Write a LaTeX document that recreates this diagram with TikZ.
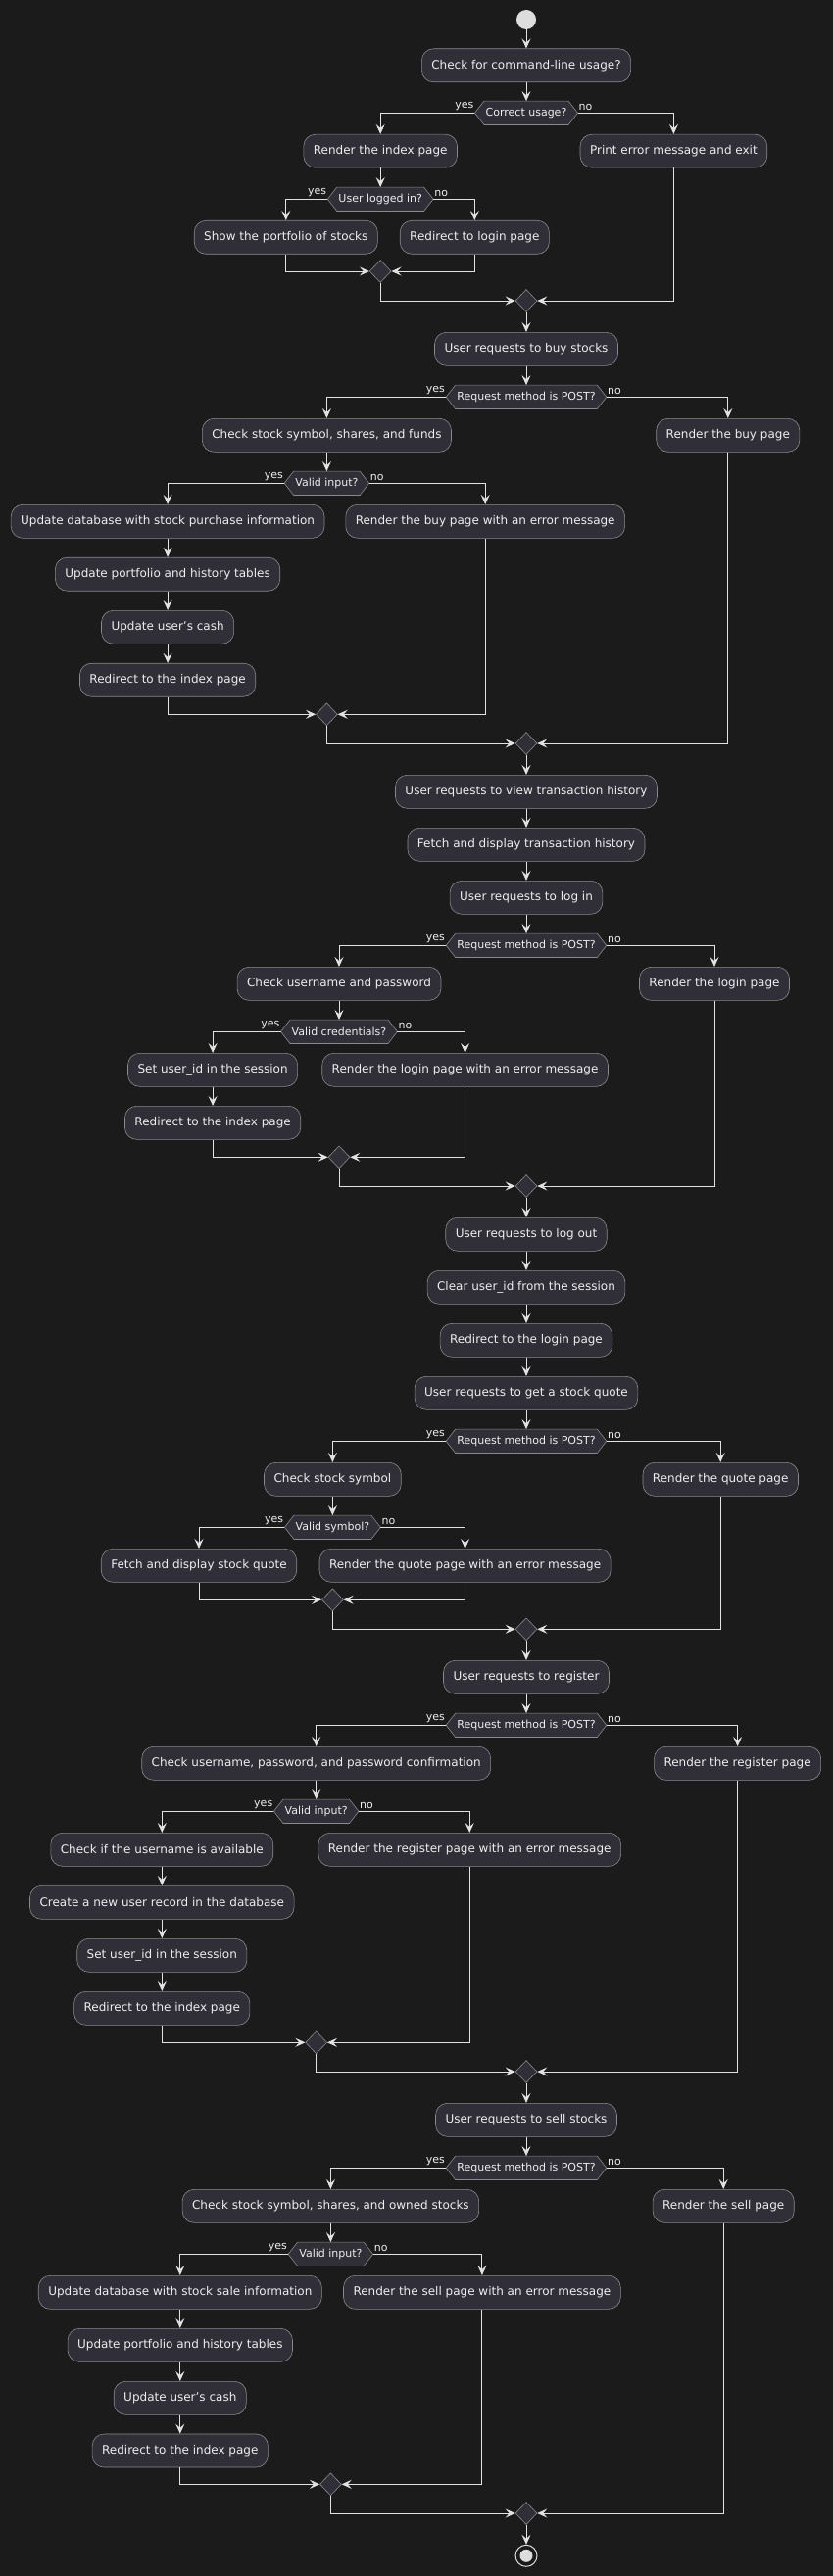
\documentclass[tikz,border=0pt]{standalone}
\usepackage{fontspec}
\setmainfont{DejaVu Sans}
\usetikzlibrary{arrows.meta,shapes.geometric}
\definecolor{bgc}{HTML}{1B1B1B}
\definecolor{boxc}{HTML}{302F38}
\definecolor{brd}{HTML}{8A8A8A}
\definecolor{lnc}{HTML}{E2E2E2}
\definecolor{txc}{HTML}{EEEEEE}
\definecolor{dotc}{HTML}{DDDDDD}
\pgfdeclarelayer{bgl}
\pgfdeclarelayer{hexl}
\pgfsetlayers{bgl,hexl,main}
\begin{document}
\begin{tikzpicture}[x=1pt,y=-1pt,
 box/.style={draw=brd, fill=boxc, line width=0.6pt, rounded corners=12pt, minimum height=34pt, inner xsep=10pt, inner ysep=0pt, font=\fontsize{12}{14}\selectfont, text=txc},
 dec/.style={inner xsep=11pt, inner ysep=0pt, minimum height=24pt, font=\fontsize{11}{13}\selectfont, text=txc},
 mrg/.style={diamond, draw=brd, fill=boxc, line width=0.6pt, minimum width=22pt, minimum height=23pt, inner sep=0pt},
 arr/.style={draw=lnc, line width=0.9pt, -{Stealth[length=10pt,width=9pt,inset=4pt]}},
 lbl/.style={font=\fontsize{11}{13}\selectfont, text=txc, inner sep=1pt},
 hex/.style={draw=brd, fill=boxc, line width=0.6pt}]
\useasboundingbox (0,0) rectangle (849,2630);
\begin{pgfonlayer}{bgl}
\fill[bgc] (-5,-5) rectangle (854,2635);
\end{pgfonlayer}

% ---------- section 1 ----------
\node[circle, fill=dotc, minimum size=20pt, inner sep=0pt] (start) at (537,20) {};
\node[box] (a1) at (537,66.8) {Check for command-line usage?};
\node[dec] (d1) at (537,115.3) {Correct usage?};
\node[box] (a2) at (388.2,154.2) {Render the index page};
\node[box] (a3) at (687.4,154.2) {Print error message and exit};
\node[dec] (d2) at (388.2,203.3) {User logged in?};
\node[box] (a4) at (291.8,242.3) {Show the portfolio of stocks};
\node[box] (a5) at (484.3,242.3) {Redirect to login page};
\node[mrg] (m1) at (388.2,277) {};
\node[mrg] (m2) at (537,307) {};

% ---------- buy ----------
\node[box] (b1) at (537,356.3) {User requests to buy stocks};
\node[dec] (d3) at (537,405.3) {Request method is POST?};
\node[box] (b2) at (333.4,444.3) {Check stock symbol, shares, and funds};
\node[box] (b3) at (742.8,444.3) {Render the buy page};
\node[dec] (d4) at (333.4,493.3) {Valid input?};
\node[box] (b4) at (171.1,532.3) {Update database with stock purchase information};
\node[box] (b5) at (495.2,532.3) {Render the buy page with an error message};
\node[box] (b6) at (171.1,586.2) {Update portfolio and history tables};
\node[box] (b7) at (171.1,640.3) {Update user's cash};
\node[box] (b8) at (171.1,694.2) {Redirect to the index page};
\node[mrg] (m3) at (333.4,729.3) {};
\node[mrg] (m4) at (537,759) {};

% ---------- history / login ----------
\node[box] (c1) at (537,808.3) {User requests to view transaction history};
\node[box] (c2) at (537,862.3) {Fetch and display transaction history};
\node[box] (c3) at (537,916.3) {User requests to log in};
\node[dec] (d5) at (537,965.3) {Request method is POST?};
\node[box] (c4) at (346,1004.3) {Check username and password};
\node[box] (c5) at (729,1004.3) {Render the login page};
\node[dec] (d6) at (346,1053.3) {Valid credentials?};
\node[box] (c6) at (217.1,1092.3) {Set user\_id in the session};
\node[box] (c7) at (474.6,1092.3) {Render the login page with an error message};
\node[box] (c8) at (217.1,1146.3) {Redirect to the index page};
\node[mrg] (m5) at (346,1181.3) {};
\node[mrg] (m6) at (537,1211) {};

% ---------- logout / quote ----------
\node[box] (e1) at (537,1260.3) {User requests to log out};
\node[box] (e2) at (537,1314.3) {Clear user\_id from the session};
\node[box] (e3) at (537,1368.3) {Redirect to the login page};
\node[box] (e4) at (537,1422.3) {User requests to get a stock quote};
\node[dec] (d7) at (537,1471.3) {Request method is POST?};
\node[box] (e5) at (339.4,1510.3) {Check stock symbol};
\node[box] (e6) at (735.2,1510.3) {Render the quote page};
\node[dec] (d8) at (339.4,1559.3) {Valid symbol?};
\node[box] (e7) at (203,1598.3) {Fetch and display stock quote};
\node[box] (e8) at (474.6,1598.3) {Render the quote page with an error message};
\node[mrg] (m7) at (339.4,1633.3) {};
\node[mrg] (m8) at (537,1663.3) {};

% ---------- register ----------
\node[box] (f1) at (537,1712.3) {User requests to register};
\node[dec] (d9) at (537,1761.3) {Request method is POST?};
\node[box] (f2) at (322.7,1800.3) {Check username, password, and password confirmation};
\node[box] (f3) at (752.6,1800.3) {Render the register page};
\node[dec] (d10) at (322.7,1849.3) {Valid input?};
\node[box] (f4) at (165.3,1888.3) {Check if the username is available};
\node[box] (f5) at (479.2,1888.3) {Render the register page with an error message};
\node[box] (f6) at (165.3,1942.3) {Create a new user record in the database};
\node[box] (f7) at (165.3,1996.3) {Set user\_id in the session};
\node[box] (f8) at (165.3,2050.3) {Redirect to the index page};
\node[mrg] (m9) at (322.7,2085.3) {};
\node[mrg] (m10) at (537,2115) {};

% ---------- sell ----------
\node[box] (g1) at (537,2164.3) {User requests to sell stocks};
\node[dec] (d11) at (537,2213.3) {Request method is POST?};
\node[box] (g2) at (337.4,2252.3) {Check stock symbol, shares, and owned stocks};
\node[box] (g3) at (738.2,2252.3) {Render the sell page};
\node[dec] (d12) at (337.4,2301.3) {Valid input?};
\node[box] (g4) at (183.8,2340.3) {Update database with stock sale information};
\node[box] (g5) at (491.9,2340.3) {Render the sell page with an error message};
\node[box] (g6) at (183.8,2394.3) {Update portfolio and history tables};
\node[box] (g7) at (183.8,2448.3) {Update user's cash};
\node[box] (g8) at (183.8,2502) {Redirect to the index page};
\node[mrg] (m11) at (337.4,2536.3) {};
\node[mrg] (m12) at (537,2566) {};
\node[circle, draw=dotc, line width=1pt, fill=bgc, minimum size=22pt, inner sep=0pt] (end) at (537,2609.3) {};
\fill[dotc] (end.center) circle (6.5pt);

% hexagons for decisions
\begin{pgfonlayer}{hexl}
\foreach \n in {d1,d2,d3,d4,d5,d6,d7,d8,d9,d10,d11,d12}{
  \draw[hex] (\n.west) -- ([xshift=9.5pt]\n.north west) -- ([xshift=-9.5pt]\n.north east) -- (\n.east) -- ([xshift=-9.5pt]\n.south east) -- ([xshift=9.5pt]\n.south west) -- cycle;
  \node[lbl, anchor=south east] at ([yshift=1pt]\n.west) {yes};
  \node[lbl, anchor=south west] at ([yshift=1pt]\n.east) {no};
}
\end{pgfonlayer}

% ---------- connectors ----------
\draw[arr] (start) -- (a1);
\draw[arr] (a1) -- (d1);
\draw[arr] (d1.west) -| (a2.north);
\draw[arr] (d1.east) -| (a3.north);
\draw[arr] (a2) -- (d2);
\draw[arr] (d2.west) -| (a4.north);
\draw[arr] (d2.east) -| (a5.north);
\draw[arr] (a4.south) |- (m1.west);
\draw[arr] (a5.south) |- (m1.east);
\draw[arr] (m1.south) |- (m2.west);
\draw[arr] (a3.south) |- (m2.east);

\draw[arr] (m2) -- (b1);
\draw[arr] (b1) -- (d3);
\draw[arr] (d3.west) -| (b2.north);
\draw[arr] (d3.east) -| (b3.north);
\draw[arr] (b2) -- (d4);
\draw[arr] (d4.west) -| (b4.north);
\draw[arr] (d4.east) -| (b5.north);
\draw[arr] (b4) -- (b6);
\draw[arr] (b6) -- (b7);
\draw[arr] (b7) -- (b8);
\draw[arr] (b8.south) |- (m3.west);
\draw[arr] (b5.south) |- (m3.east);
\draw[arr] (m3.south) |- (m4.west);
\draw[arr] (b3.south) |- (m4.east);

\draw[arr] (m4) -- (c1);
\draw[arr] (c1) -- (c2);
\draw[arr] (c2) -- (c3);
\draw[arr] (c3) -- (d5);
\draw[arr] (d5.west) -| (c4.north);
\draw[arr] (d5.east) -| (c5.north);
\draw[arr] (c4) -- (d6);
\draw[arr] (d6.west) -| (c6.north);
\draw[arr] (d6.east) -| (c7.north);
\draw[arr] (c6) -- (c8);
\draw[arr] (c8.south) |- (m5.west);
\draw[arr] (c7.south) |- (m5.east);
\draw[arr] (m5.south) |- (m6.west);
\draw[arr] (c5.south) |- (m6.east);

\draw[arr] (m6) -- (e1);
\draw[arr] (e1) -- (e2);
\draw[arr] (e2) -- (e3);
\draw[arr] (e3) -- (e4);
\draw[arr] (e4) -- (d7);
\draw[arr] (d7.west) -| (e5.north);
\draw[arr] (d7.east) -| (e6.north);
\draw[arr] (e5) -- (d8);
\draw[arr] (d8.west) -| (e7.north);
\draw[arr] (d8.east) -| (e8.north);
\draw[arr] (e7.south) |- (m7.west);
\draw[arr] (e8.south) |- (m7.east);
\draw[arr] (m7.south) |- (m8.west);
\draw[arr] (e6.south) |- (m8.east);

\draw[arr] (m8) -- (f1);
\draw[arr] (f1) -- (d9);
\draw[arr] (d9.west) -| (f2.north);
\draw[arr] (d9.east) -| (f3.north);
\draw[arr] (f2) -- (d10);
\draw[arr] (d10.west) -| (f4.north);
\draw[arr] (d10.east) -| (f5.north);
\draw[arr] (f4) -- (f6);
\draw[arr] (f6) -- (f7);
\draw[arr] (f7) -- (f8);
\draw[arr] (f8.south) |- (m9.west);
\draw[arr] (f5.south) |- (m9.east);
\draw[arr] (m9.south) |- (m10.west);
\draw[arr] (f3.south) |- (m10.east);

\draw[arr] (m10) -- (g1);
\draw[arr] (g1) -- (d11);
\draw[arr] (d11.west) -| (g2.north);
\draw[arr] (d11.east) -| (g3.north);
\draw[arr] (g2) -- (d12);
\draw[arr] (d12.west) -| (g4.north);
\draw[arr] (d12.east) -| (g5.north);
\draw[arr] (g4) -- (g6);
\draw[arr] (g6) -- (g7);
\draw[arr] (g7) -- (g8);
\draw[arr] (g8.south) |- (m11.west);
\draw[arr] (g5.south) |- (m11.east);
\draw[arr] (m11.south) |- (m12.west);
\draw[arr] (g3.south) |- (m12.east);
\draw[arr] (m12) -- (end);
\end{tikzpicture}
\end{document}
